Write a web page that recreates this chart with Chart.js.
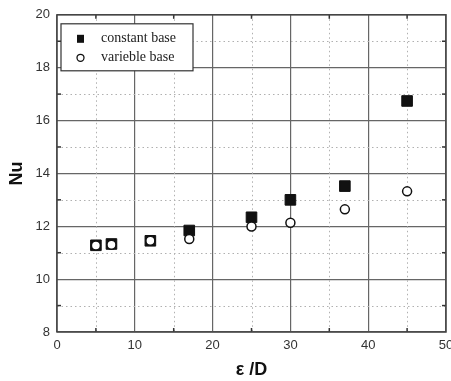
<!DOCTYPE html>
<html lang="en">
<head>
    <meta charset="UTF-8">
    <title>Nu vs e/D</title>
    <script src="https://cdn.jsdelivr.net/npm/chart.js"></script>
    <style>
        html, body { margin: 0; padding: 0; background: #ffffff; overflow: hidden; }
        #wrap { width: 451px; height: 381px; position: relative; }
    </style>
</head>
<body>
    <div id="wrap"><canvas id="nuChart"></canvas></div>

    <script>
        // Data
        const xValues = [5, 7, 12, 17, 25, 30, 37, 45];
        const constantBase = [11.28, 11.33, 11.45, 11.84, 12.34, 13.0, 13.52, 16.74];
        const variableBase = [11.27, 11.30, 11.45, 11.52, 11.99, 12.13, 12.64, 13.32];
        const xTicks = [0, 10, 20, 30, 40, 50];
        const yTicks = [8, 10, 12, 14, 16, 18, 20];
        const xMinor = [5, 15, 25, 35, 45];
        const yMinor = [9, 11, 13, 15, 17, 19];
        const seriesNames = ['constant base', 'varieble base'];

        const toPoints = (ys) => xValues.map((x, i) => ({ x: x, y: ys[i] }));
        const sansFont = '"Liberation Sans", Arial, sans-serif';

        // dotted minor grid, minor ticks, the box frame and x tick labels
        const framePlugin = {
            id: 'frame',
            beforeDatasetsDraw(chart) {
                const { ctx, chartArea: a, scales } = chart;
                ctx.save();
                ctx.strokeStyle = '#b0b0b0';
                ctx.lineWidth = 1;
                ctx.setLineDash([1.5, 3]);
                xMinor.forEach(v => {
                    const px = Math.round(scales.x.getPixelForValue(v)) + 0.5;
                    ctx.beginPath(); ctx.moveTo(px, a.top); ctx.lineTo(px, a.bottom); ctx.stroke();
                });
                yMinor.forEach(v => {
                    const py = Math.round(scales.y.getPixelForValue(v)) + 0.5;
                    ctx.beginPath(); ctx.moveTo(a.left, py); ctx.lineTo(a.right, py); ctx.stroke();
                });
                ctx.setLineDash([]);
                ctx.strokeStyle = '#333';
                ctx.lineWidth = 1.5;
                xMinor.forEach(v => {
                    const px = scales.x.getPixelForValue(v);
                    ctx.beginPath(); ctx.moveTo(px, a.bottom); ctx.lineTo(px, a.bottom - 4); ctx.stroke();
                    ctx.beginPath(); ctx.moveTo(px, a.top); ctx.lineTo(px, a.top + 4); ctx.stroke();
                });
                yMinor.forEach(v => {
                    const py = scales.y.getPixelForValue(v);
                    ctx.beginPath(); ctx.moveTo(a.left, py); ctx.lineTo(a.left + 4, py); ctx.stroke();
                    ctx.beginPath(); ctx.moveTo(a.right, py); ctx.lineTo(a.right - 4, py); ctx.stroke();
                });
                ctx.strokeStyle = '#444';
                ctx.lineWidth = 1.5;
                ctx.strokeRect(a.left, a.top, a.right - a.left, a.bottom - a.top);

                // x tick labels: the "50" runs off the right edge like the original
                ctx.fillStyle = '#333';
                ctx.font = '13px ' + sansFont;
                ctx.textAlign = 'center';
                ctx.textBaseline = 'middle';
                xTicks.forEach(v => {
                    ctx.fillText(String(v), scales.x.getPixelForValue(v), a.bottom + 13);
                });
                ctx.restore();
            },
            afterDatasetsDraw(chart) {
                // legend box inside the plot, top left
                const { ctx, chartArea: a } = chart;
                const bx = a.left + 4, by = a.top + 9, bw = 132, bh = 47;
                ctx.save();
                ctx.fillStyle = '#fff';
                ctx.fillRect(bx, by, bw, bh);
                ctx.strokeStyle = '#333';
                ctx.lineWidth = 1.2;
                ctx.strokeRect(bx, by, bw, bh);
                ctx.fillStyle = '#111';
                ctx.fillRect(bx + 16, by + 11, 7, 8);
                ctx.beginPath();
                ctx.arc(bx + 19.5, by + 34, 3.5, 0, Math.PI * 2);
                ctx.fillStyle = '#fff';
                ctx.fill();
                ctx.strokeStyle = '#111';
                ctx.lineWidth = 1.3;
                ctx.stroke();
                ctx.fillStyle = '#222';
                ctx.font = '14px "Liberation Serif", "Times New Roman", serif';
                ctx.textBaseline = 'middle';
                ctx.fillText(seriesNames[0], bx + 40, by + 15);
                ctx.fillText(seriesNames[1], bx + 40, by + 34);
                ctx.restore();
            }
        };

        const ctx = document.getElementById('nuChart').getContext('2d');
        const chart = new Chart(ctx, {
            type: 'scatter',
            data: {
                datasets: [{
                    label: seriesNames[0],
                    data: toPoints(constantBase),
                    pointStyle: 'rect',
                    pointRadius: 7.5,
                    pointHoverRadius: 7.5,
                    backgroundColor: '#111',
                    borderColor: '#111',
                    borderWidth: 1,
                    order: 1
                },
                {
                    label: seriesNames[1],
                    data: toPoints(variableBase),
                    pointStyle: 'circle',
                    pointRadius: 4.5,
                    pointHoverRadius: 4.5,
                    backgroundColor: '#fff',
                    borderColor: '#111',
                    borderWidth: 1.5,
                    order: 0
                }]
            },
            options: {
                responsive: true,
                maintainAspectRatio: false,
                animation: false,
                layout: {
                    autoPadding: false,
                    padding: { top: 14, right: 5, left: 0, bottom: 0 }
                },
                plugins: {
                    legend: { display: false },
                    tooltip: { enabled: false }
                },
                scales: {
                    x: {
                        type: 'linear',
                        min: 0,
                        max: 50,
                        afterBuildTicks: (s) => { s.ticks = xTicks.map(v => ({ value: v })); },
                        afterFit: (s) => { s.height = 49; },
                        grid: { color: '#666', lineWidth: 1.2, drawTicks: false },
                        border: { display: false },
                        ticks: { display: false },
                        title: {
                            display: true,
                            text: 'ε /D',
                            color: '#111',
                            padding: { top: 2, bottom: 0 },
                            font: { family: sansFont, size: 18, weight: 'bold' }
                        }
                    },
                    y: {
                        type: 'linear',
                        min: 8,
                        max: 20,
                        afterBuildTicks: (s) => { s.ticks = yTicks.map(v => ({ value: v })); },
                        afterFit: (s) => { s.width = 57; },
                        grid: { color: '#666', lineWidth: 1.2, drawTicks: false },
                        border: { display: false },
                        ticks: {
                            color: '#333',
                            padding: 7,
                            font: { family: sansFont, size: 13 }
                        },
                        title: {
                            display: true,
                            text: 'Nu',
                            color: '#111',
                            padding: { top: 6, bottom: 0 },
                            font: { family: sansFont, size: 18, weight: 'bold' }
                        }
                    }
                }
            },
            plugins: [framePlugin]
        });
    </script>
</body>
</html>
